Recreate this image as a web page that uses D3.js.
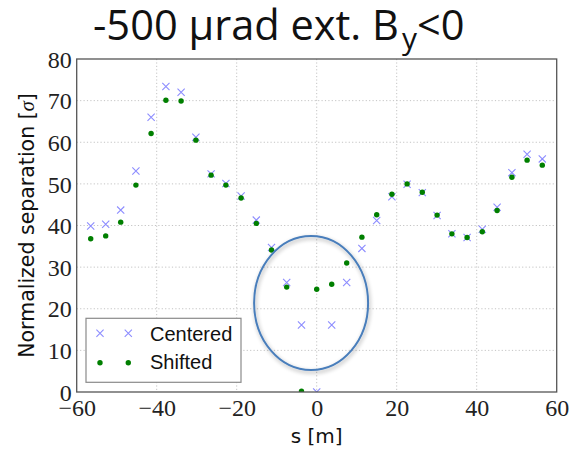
<!DOCTYPE html>
<html><head><meta charset="utf-8">
<script src="https://cdn.jsdelivr.net/npm/d3@7"></script>
<style>body{margin:0;background:#fff}svg{display:block}
.serif{font-family:"Liberation Serif","Times New Roman",serif}</style>
</head><body>
<svg id="c" width="571" height="449"></svg>
<script>
// ---- data ----
const sPos = [-56.5, -52.75, -49, -45.2, -41.4, -37.7, -33.9, -30.2, -26.4, -22.7, -18.9, -15.1, -11.3, -7.5, -3.8, 0, 3.75, 7.5, 11.3, 15, 18.8, 22.6, 26.4, 30.1, 33.8, 37.6, 41.4, 45.1, 48.8, 52.6, 56.4];
const centered = [39.9, 40.3, 43.7, 53.1, 66.0, 73.4, 72.0, 61.2, 52.4, 50.1, 47.1, 41.3, 34.7, 26.3, 16.1, 0.0, 16.1, 26.3, 34.5, 41.2, 46.9, 49.9, 47.9, 42.4, 38.0, 37.1, 39.1, 44.4, 52.7, 57.1, 56.0];
const shifted = [36.8, 37.5, 40.8, 49.7, 62.1, 70.1, 69.9, 60.5, 52.1, 49.7, 46.6, 40.5, 34.1, 25.2, 0.2, 24.7, 25.9, 31.0, 37.2, 42.6, 47.5, 50.0, 48.0, 42.5, 38.0, 37.1, 38.5, 43.6, 51.6, 55.7, 54.5];
const seriesNames = ["Centered", "Shifted"];
const xTicks = [-60, -40, -20, 0, 20, 40, 60];
const yTicks = [0, 10, 20, 30, 40, 50, 60, 70, 80];
const xLabel = "s [m]";
const yLabel = "Normalized separation ";
const titleMain = "-500 µrad ext. B";
const titleSub = "y";
const titleEnd = "<0";
// highlighted region (ellipse): centre s, centre value, half-width in s, half-height in value
const highlight = {s: -1.4, v: 21.4, ds: 14.25, dv: 16.1};

// ---- layout ----
const svg = d3.select("#c");
const L = 76.7, R = 556.7, T = 59, B = 392;
const x = d3.scaleLinear().domain([-60, 60]).range([L, R]);
const y = d3.scaleLinear().domain([0, 80]).range([B, T]);

svg.append("defs").append("clipPath").attr("id", "plotclip")
  .append("rect").attr("x", L).attr("y", T).attr("width", R - L).attr("height", B - T);
const f = svg.select("defs").append("filter").attr("id", "shadow")
  .attr("x", "-20%").attr("y", "-20%").attr("width", "140%").attr("height", "140%");
f.append("feGaussianBlur").attr("in", "SourceAlpha").attr("stdDeviation", 2).attr("result", "b");
f.append("feOffset").attr("in", "b").attr("dx", 1).attr("dy", 1.5).attr("result", "o");
f.append("feComponentTransfer").attr("in", "o").attr("result", "o2")
  .append("feFuncA").attr("type", "linear").attr("slope", 0.35);
const m = f.append("feMerge");
m.append("feMergeNode").attr("in", "o2");
m.append("feMergeNode").attr("in", "SourceGraphic");

// grid
const grid = svg.append("g").attr("stroke", "#c4c4c4").attr("stroke-width", 1).attr("stroke-dasharray", "1.2,2.2");
grid.selectAll("line.gx").data(xTicks.slice(1, -1)).join("line")
  .attr("x1", d => x(d)).attr("x2", d => x(d)).attr("y1", T).attr("y2", B);
grid.selectAll("line.gy").data(yTicks.slice(1, -1)).join("line")
  .attr("y1", d => y(d)).attr("y2", d => y(d)).attr("x1", L).attr("x2", R);

// axes
const xAxis = svg.append("g").attr("transform", `translate(0,${B})`)
  .call(d3.axisBottom(x).tickValues(xTicks).tickSize(0).tickPadding(6));
xAxis.attr("font-family", null).attr("font-size", null);
xAxis.select(".domain").remove();
xAxis.selectAll("text").attr("class", "serif").style("font-size", "24px").attr("fill", "#222").attr("dy", "0.74em");
const yAxis = svg.append("g").attr("transform", `translate(${L},0)`)
  .call(d3.axisLeft(y).tickValues(yTicks).tickSize(0).tickPadding(5));
yAxis.attr("font-family", null).attr("font-size", null);
yAxis.select(".domain").remove();
yAxis.selectAll("text").attr("class", "serif").style("font-size", "24px").attr("fill", "#222").attr("dy", "0.34em");

// points
const pts = svg.append("g").attr("clip-path", "url(#plotclip)");
const cross = "M-3.6,-3.6L3.6,3.6M-3.6,3.6L3.6,-3.6";
pts.selectAll("path.c").data(sPos).join("path").attr("class", "c")
  .attr("d", cross).attr("transform", (d, i) => `translate(${x(d)},${y(centered[i])})`)
  .attr("stroke", "#8c8cff").attr("stroke-width", 1.1).attr("fill", "none");
pts.selectAll("circle.s").data(sPos).join("circle").attr("class", "s")
  .attr("cx", d => x(d)).attr("cy", (d, i) => y(shifted[i])).attr("r", 2.7).attr("fill", "#007f00");

// frame
svg.append("rect").attr("x", L).attr("y", T).attr("width", R - L).attr("height", B - T)
  .attr("fill", "none").attr("stroke", "#555").attr("stroke-width", 1.3);

// ellipse annotation
svg.append("ellipse").attr("cx", x(highlight.s)).attr("cy", y(highlight.v))
  .attr("rx", x(highlight.s + highlight.ds) - x(highlight.s)).attr("ry", y(0) - y(highlight.dv))
  .attr("fill", "none").attr("stroke", "#4a7ebb").attr("stroke-width", 2).attr("filter", "url(#shadow)");

// legend
const lg = svg.append("g");
lg.append("rect").attr("x", 86).attr("y", 318.3).attr("width", 155).attr("height", 64)
  .attr("fill", "#fff").attr("stroke", "#8a8a8a").attr("stroke-width", 1.2);
[100, 128.3].forEach(px => {
  lg.append("path").attr("d", cross).attr("transform", `translate(${px},333.3)`)
    .attr("stroke", "#8c8cff").attr("stroke-width", 1.1).attr("fill", "none");
  lg.append("circle").attr("cx", px).attr("cy", 362.7).attr("r", 2.7).attr("fill", "#007f00");
});
lg.selectAll("text").data(seriesNames).join("text")
  .attr("x", 150).attr("y", (d, i) => i === 0 ? 340.7 : 369)
  .attr("font-family", "Liberation Sans, Arial, sans-serif").attr("font-size", 20).attr("fill", "#111").text(d => d);

// axis labels
svg.append("text").attr("x", x(0)).attr("y", 443).attr("text-anchor", "middle")
  .attr("font-family", "DejaVu Sans").attr("font-size", 20).attr("fill", "#111").text(xLabel);
const yl = svg.append("text").attr("transform", `translate(34,${(T + B) / 2}) rotate(-90)`).attr("text-anchor", "middle")
  .attr("font-family", "DejaVu Sans").attr("font-size", 20.5).attr("fill", "#111");
yl.append("tspan").text(yLabel + "[");
yl.append("tspan").attr("class", "serif").style("font-style", "italic").text("σ");
yl.append("tspan").text("]");

// title
const tg = svg.append("g").attr("font-family", "Open Sans").attr("fill", "#111");
const t1 = tg.append("text").attr("x", 93).attr("y", 40).attr("font-size", 41).text(titleMain);
const w1 = t1.node().getComputedTextLength();
const fs = 41 * 306 / w1;
t1.attr("font-size", fs);
tg.append("text").attr("x", 402).attr("y", 49).attr("font-size", fs * 0.72).text(titleSub);
tg.append("text").attr("x", 417).attr("y", 40).attr("font-size", fs).text(titleEnd);
</script>
</body></html>
